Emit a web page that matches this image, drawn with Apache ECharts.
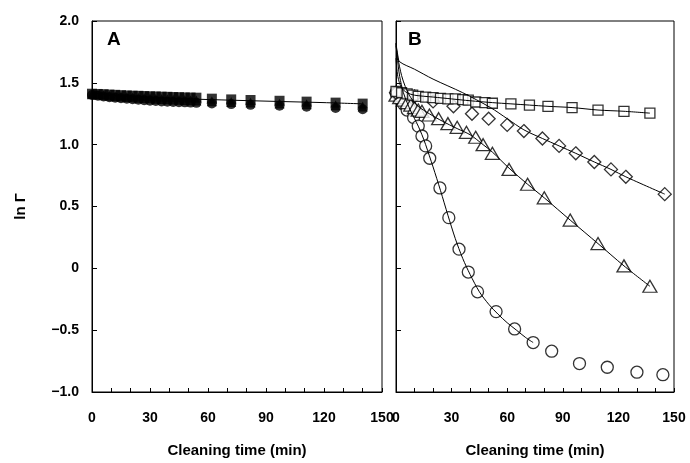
<!DOCTYPE html>
<html>
<head>
<meta charset="utf-8">
<script src="https://cdn.jsdelivr.net/npm/echarts@6/dist/echarts.min.js"></script>
<style>
html, body { margin: 0; padding: 0; background: #fff; }
#chart { width: 690px; height: 463px; }
</style>
</head>
<body>
<div id="chart"></div>
<script>
// tick labels
const xTicks = [0, 30, 60, 90, 120, 150];
const xTickLabels = ['0', '30', '60', '90', '120', '150'];
const yTicks = [-1, -0.5, 0, 0.5, 1, 1.5, 2];
const yTickLabels = ['\u22121.0', '\u22120.5', '0', '0.5', '1.0', '1.5', '2.0'];

// panel A (filled symbols)
const aTime = [0, 3, 6, 9, 12, 15, 18, 21, 24, 27, 30, 33, 36, 39, 42, 45, 48, 51, 54, 62, 72, 82, 97, 111, 126, 140];
const aSquare = [1.412, 1.410, 1.408, 1.405, 1.403, 1.400, 1.398, 1.396, 1.395, 1.393, 1.391, 1.390, 1.388, 1.387, 1.385, 1.384, 1.382, 1.381, 1.380, 1.372, 1.366, 1.361, 1.355, 1.348, 1.340, 1.332];
const aTriangle = [1.408, 1.404, 1.400, 1.396, 1.392, 1.389, 1.386, 1.383, 1.380, 1.377, 1.375, 1.372, 1.370, 1.368, 1.366, 1.364, 1.362, 1.360, 1.358, 1.352, 1.346, 1.340, 1.333, 1.326, 1.318, 1.308];
const aCircle = [1.402, 1.396, 1.390, 1.384, 1.379, 1.375, 1.371, 1.367, 1.363, 1.359, 1.356, 1.353, 1.350, 1.348, 1.346, 1.344, 1.342, 1.340, 1.338, 1.333, 1.328, 1.322, 1.314, 1.306, 1.296, 1.286];
const aFitTime = [0, 10, 30, 60, 90, 120, 140];
const aFit = [1.42, 1.40, 1.38, 1.365, 1.352, 1.34, 1.33];

// panel B (open symbols)
const bSqTime = [0, 3, 6, 9, 12, 16, 20, 24, 28, 32, 36, 39, 43, 48, 52, 62, 72, 82, 95, 109, 123, 137];
const bSquare = [1.43, 1.42, 1.41, 1.40, 1.39, 1.385, 1.38, 1.375, 1.37, 1.37, 1.365, 1.36, 1.345, 1.34, 1.335, 1.33, 1.32, 1.31, 1.30, 1.28, 1.27, 1.255];
const bDiaTime = [0, 10, 20, 31, 41, 50, 60, 69, 79, 88, 97, 107, 116, 124, 145];
const bDiamond = [1.42, 1.39, 1.35, 1.31, 1.25, 1.21, 1.16, 1.11, 1.05, 0.99, 0.93, 0.86, 0.80, 0.74, 0.60];
const bTriTime = [0, 2, 4, 6, 8, 10, 12, 14, 18, 23, 28, 33, 38, 43, 47, 52, 61, 71, 80, 94, 109, 123, 137];
const bTriangle = [1.40, 1.38, 1.36, 1.34, 1.32, 1.30, 1.28, 1.27, 1.24, 1.21, 1.17, 1.14, 1.10, 1.06, 1.00, 0.93, 0.80, 0.68, 0.57, 0.39, 0.20, 0.02, -0.145];
const bCirTime = [0, 2, 4, 6, 9.5, 12, 14, 16, 18.2, 23.7, 28.5, 34, 39, 44, 54, 64, 74, 84, 99, 114, 130, 144];
const bCircle = [1.42, 1.37, 1.33, 1.28, 1.22, 1.15, 1.07, 0.99, 0.89, 0.65, 0.41, 0.155, -0.03, -0.19, -0.35, -0.49, -0.60, -0.67, -0.77, -0.80, -0.84, -0.86];

// fitted curves in panel B
const bSqFitTime = [0, 1, 3, 6, 10, 20, 30, 40, 52, 62, 72, 82, 95, 109, 123, 137];
const bSqFit = [1.70, 1.55, 1.46, 1.42, 1.40, 1.385, 1.37, 1.355, 1.34, 1.33, 1.32, 1.31, 1.30, 1.28, 1.27, 1.255];
const bDiaFitTime = [0, 1, 2, 10, 20, 36, 51, 60, 69, 79, 88, 97, 107, 116, 124, 145];
const bDiaFit = [1.82, 1.72, 1.67, 1.61, 1.53, 1.42, 1.30, 1.21, 1.12, 1.05, 0.99, 0.93, 0.86, 0.80, 0.74, 0.60];
const bTriFitTime = [0, 1, 3, 5, 8, 12, 18, 25, 33, 40, 47, 52, 61, 71, 80, 94, 109, 123, 137];
const bTriFit = [1.80, 1.70, 1.56, 1.47, 1.38, 1.31, 1.25, 1.19, 1.13, 1.08, 1.00, 0.94, 0.81, 0.68, 0.57, 0.39, 0.20, 0.02, -0.145];
const bCirFitTime = [0, 1, 2, 4, 6, 8, 10, 12, 14, 16, 18, 20, 24, 28, 32, 36, 40, 45, 50, 55, 60, 65, 70, 74];
const bCirFit = [1.82, 1.66, 1.55, 1.42, 1.34, 1.27, 1.21, 1.15, 1.08, 1.00, 0.91, 0.82, 0.63, 0.43, 0.24, 0.08, -0.05, -0.19, -0.29, -0.37, -0.44, -0.50, -0.56, -0.60];

const font = 'Liberation Sans, Arial, sans-serif';

function pairs(xs, ys) {
    return xs.map((x, i) => [x, ys[i]]);
}

function xAxisFor(gridIndex) {
    return {
        type: 'value',
        gridIndex: gridIndex,
        min: 0,
        max: 150,
        interval: 10,
        axisLine: { onZero: false, lineStyle: { color: '#000', width: 1 } },
        axisTick: { inside: true, length: 4, lineStyle: { color: '#000', width: 1 } },
        axisLabel: {
            color: '#000', fontFamily: font, fontWeight: 'bold', fontSize: 14, margin: 19,
            formatter: v => {
                const i = xTicks.indexOf(v);
                return i >= 0 ? xTickLabels[i] : '';
            }
        },
        splitLine: { show: false },
        name: 'Cleaning time (min)',
        nameLocation: 'middle',
        nameGap: 51,
        nameTextStyle: { color: '#000', fontFamily: font, fontWeight: 'bold', fontSize: 15 }
    };
}

function yAxisFor(gridIndex, withLabels) {
    return {
        type: 'value',
        gridIndex: gridIndex,
        min: -1,
        max: 2,
        interval: 0.5,
        axisLine: { onZero: false, lineStyle: { color: '#000', width: 1 } },
        axisTick: { inside: true, length: 5, lineStyle: { color: '#000', width: 1 } },
        axisLabel: {
            show: withLabels,
            color: '#000', fontFamily: font, fontWeight: 'bold', fontSize: 14, margin: 13,
            formatter: v => {
                const i = yTicks.findIndex(t => Math.abs(t - v) < 1e-6);
                return i >= 0 ? yTickLabels[i] : '';
            }
        },
        splitLine: { show: false },
        name: withLabels ? 'ln \u0393' : '',
        nameLocation: 'middle',
        nameGap: 64,
        nameTextStyle: { color: '#000', fontFamily: font, fontWeight: 'bold', fontSize: 15 }
    };
}

function fitLine(g, xs, ys) {
    return {
        type: 'line', xAxisIndex: g, yAxisIndex: g,
        data: pairs(xs, ys),
        symbol: 'none', smooth: 0.3,
        lineStyle: { color: '#000', width: 1 },
        silent: true
    };
}

function marks(g, xs, ys, symbol, size, filled) {
    return {
        type: 'scatter', xAxisIndex: g, yAxisIndex: g,
        data: pairs(xs, ys),
        symbol: symbol, symbolSize: size,
        itemStyle: filled
            ? { color: '#000' }
            : { color: '#fff', borderColor: '#000', borderWidth: 1.3 },
        silent: true
    };
}

let myChart = echarts.init(document.querySelector('#chart'));
let option = {
    animation: false,
    backgroundColor: '#fff',
    title: [
        { text: 'A', left: 107, top: 30, textStyle: { fontFamily: font, fontWeight: 'bold', fontSize: 19, color: '#000' }, padding: 0 },
        { text: 'B', left: 408, top: 30, textStyle: { fontFamily: font, fontWeight: 'bold', fontSize: 19, color: '#000' }, padding: 0 }
    ],
    grid: [
        { left: 92, top: 21, width: 290, height: 375, show: true, borderColor: '#000', borderWidth: 1 },
        { left: 396, top: 21, width: 278, height: 375, show: true, borderColor: '#000', borderWidth: 1 }
    ],
    xAxis: [xAxisFor(0), xAxisFor(1)],
    yAxis: [yAxisFor(0, true), yAxisFor(1, false)],
    series: [
        fitLine(0, aFitTime, aFit),
        marks(0, aTime, aCircle, 'circle', 10, true),
        marks(0, aTime, aTriangle, 'triangle', 10, true),
        marks(0, aTime, aSquare, 'rect', 10, true),

        fitLine(1, bSqFitTime, bSqFit),
        fitLine(1, bDiaFitTime, bDiaFit),
        fitLine(1, bTriFitTime, bTriFit),
        fitLine(1, bCirFitTime, bCirFit),
        marks(1, bCirTime, bCircle, 'circle', 12, false),
        marks(1, bTriTime, bTriangle, 'triangle', [14, 12], false),
        marks(1, bDiaTime, bDiamond, 'diamond', 13, false),
        marks(1, bSqTime, bSquare, 'rect', 10, false)
    ]
};
myChart.setOption(option);
</script>
</body>
</html>
